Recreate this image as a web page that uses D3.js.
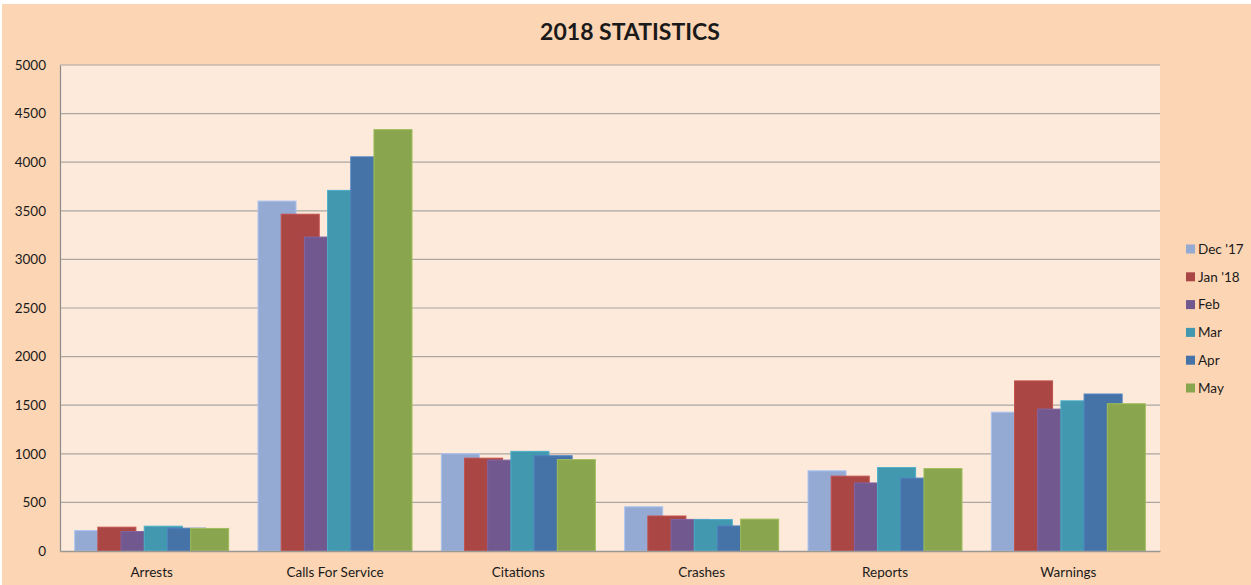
<!DOCTYPE html>
<html>
<head>
<meta charset="utf-8">
<script src="https://cdn.jsdelivr.net/npm/d3@7"></script>
<style>
  body { margin: 0; background: #fff; }
  svg text { font-family: Lato, "Open Sans", sans-serif; fill: #1a1a1a; }
</style>
</head>
<body>
<div id="chart"></div>
<script>
// chart data
const categories = ["Arrests", "Calls For Service", "Citations", "Crashes", "Reports", "Warnings"];
const seriesNames = ["Dec '17", "Jan '18", "Feb", "Mar", "Apr", "May"];
const dec17 = [210, 3600, 1000, 455, 825, 1428];
const jan18 = [245, 3465, 955, 360, 770, 1750];
const feb = [200, 3230, 935, 325, 700, 1460];
const mar = [255, 3710, 1025, 323, 858, 1545];
const apr = [235, 4055, 980, 258, 750, 1615];
const may = [232, 4335, 940, 328, 848, 1515];
const yTicks = [0, 500, 1000, 1500, 2000, 2500, 3000, 3500, 4000, 4500, 5000];
const colors = ["#94AAD2", "#AA4643", "#71588F", "#4198AF", "#4572A7", "#89A54E"];

const allSeries = [dec17, jan18, feb, mar, apr, may];

const width = 1251, height = 585;
const margin = {top: 65, right: 91, bottom: 34, left: 60};
const plotW = width - margin.left - margin.right;
const plotH = height - margin.top - margin.bottom;

let svg = d3.select("#chart")
    .append("svg")
    .attr("width", width)
    .attr("height", height);

// outer background
svg.append("rect")
    .attr("x", 2).attr("y", 4)
    .attr("width", width - 2).attr("height", height - 4)
    .attr("fill", "#FCD5B4");

let g = svg.append("g")
    .attr("transform", `translate(${margin.left},${margin.top})`);

g.append("rect")
    .attr("width", plotW).attr("height", plotH)
    .attr("fill", "#FDEADA");

let x0 = d3.scaleBand()
    .domain(categories)
    .range([0, plotW])
    .paddingInner(0.16)
    .paddingOuter(0.08);

let y = d3.scaleLinear()
    .domain([0, 5000])
    .range([plotH, 0]);

// gridlines
g.selectAll(".grid")
    .data(yTicks.filter(d => d > 0))
    .enter()
    .append("line")
    .attr("x1", 0).attr("x2", plotW)
    .attr("y1", d => y(d)).attr("y2", d => y(d))
    .attr("stroke", "#ABA6A2")
    .attr("stroke-width", 1.2);

// bars overlap like the excel default (wide bars, smaller step)
let step = x0.bandwidth() / (5 + 1.64);
let barW = step * 1.64;

seriesNames.forEach(function(name, i) {
  g.append("g")
    .selectAll("rect")
    .data(allSeries[i])
    .enter()
    .append("rect")
    .attr("x", (d, j) => x0(categories[j]) + i * step)
    .attr("y", d => y(d))
    .attr("width", barW)
    .attr("height", d => plotH - y(d))
    .attr("fill", colors[i])
    .attr("stroke", d3.color(colors[i]).brighter(0.4))
    .attr("stroke-width", 1);
});

// axes
let yAxis = g.append("g")
    .call(d3.axisLeft(y).tickValues(yTicks).tickFormat(d3.format("d")).tickSize(0).tickPadding(14));
yAxis.select(".domain").attr("stroke", "#8C8C8C").attr("stroke-width", 1.2);
yAxis.selectAll("text").style("font-size", "13.5px").style("font-family", "Lato, sans-serif").attr("fill", "#1a1a1a");

let xAxis = g.append("g")
    .attr("transform", `translate(0,${plotH})`)
    .call(d3.axisBottom(x0).tickSize(0).tickPadding(16));
xAxis.select(".domain").attr("stroke", "#9C9894").attr("stroke-width", 1.5);
xAxis.selectAll("text").style("font-size", "13.5px").style("font-family", "Lato, sans-serif").attr("fill", "#1a1a1a");

// title
svg.append("text")
    .attr("x", 630).attr("y", 40)
    .style("text-anchor", "middle")
    .style("font-size", "23px")
    .style("font-weight", "bold")
    .text("2018 STATISTICS");

// legend
let legend = svg.append("g")
    .attr("transform", "translate(1186,249)");

seriesNames.forEach(function(name, i) {
  let row = legend.append("g").attr("transform", `translate(0,${i * 27.8})`);
  row.append("rect")
    .attr("x", 0).attr("y", -4.5)
    .attr("width", 9).attr("height", 9)
    .attr("fill", colors[i]);
  row.append("text")
    .attr("x", 12).attr("y", 0)
    .attr("dy", "0.35em")
    .style("font-size", "13.5px")
    .text(name);
});
</script>
</body>
</html>
